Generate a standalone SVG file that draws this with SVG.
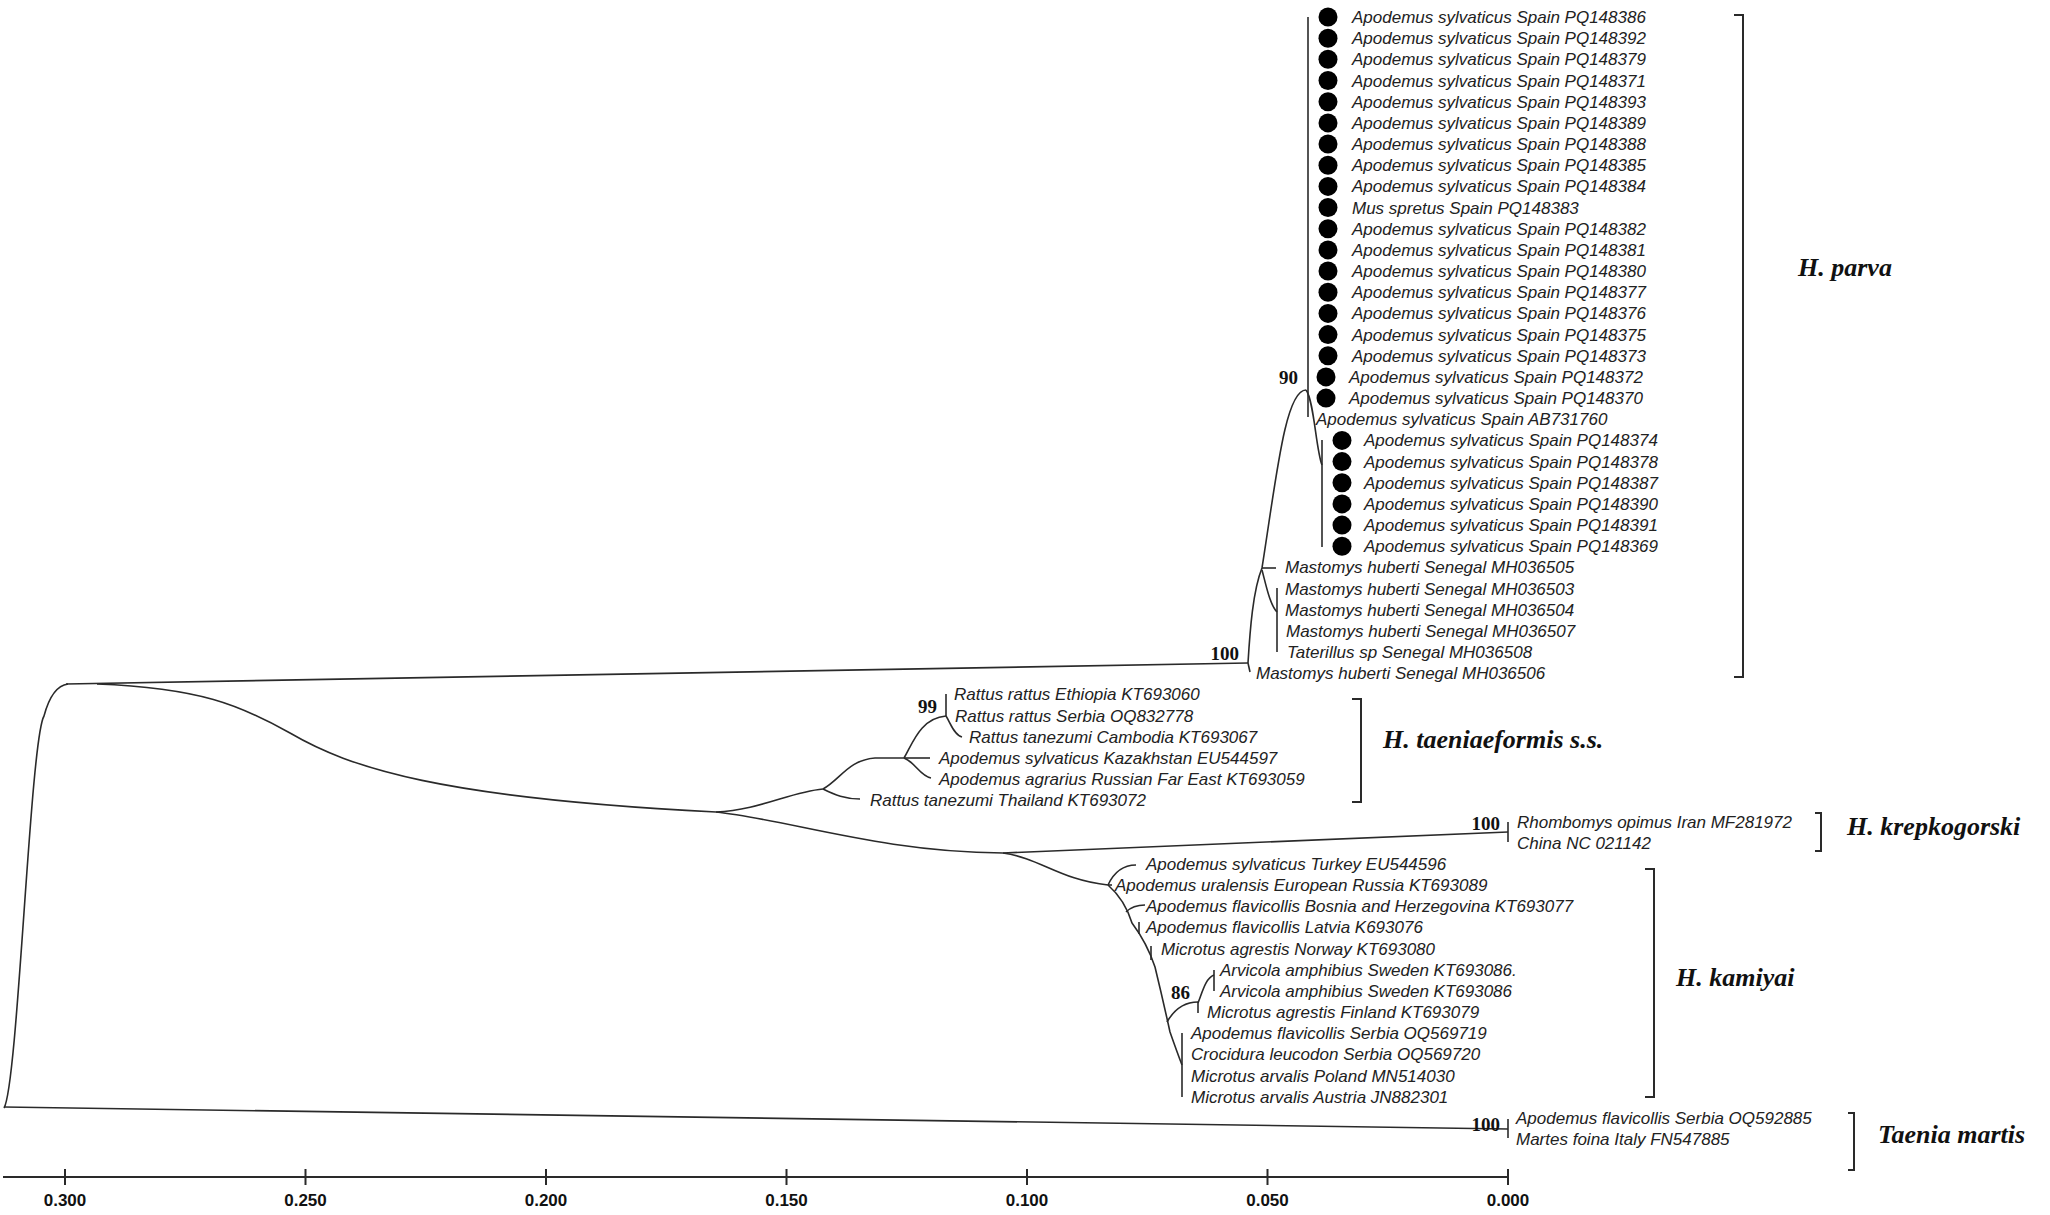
<svg xmlns="http://www.w3.org/2000/svg" width="2050" height="1215" viewBox="0 0 2050 1215">
<style>
.bg{fill:#fff}
.br{fill:none;stroke:#2a2a2a;stroke-width:1.6;stroke-linecap:butt}
.ax{fill:none;stroke:#2a2a2a;stroke-width:2}
.lf{font-family:"Liberation Sans",Arial,sans-serif;font-style:italic;font-size:17px;fill:#222}
.bs{font-family:"Liberation Serif","Times New Roman",serif;font-weight:bold;font-size:19px;fill:#111;text-anchor:end}
.cl{font-family:"Liberation Serif","Times New Roman",serif;font-weight:bold;font-style:italic;font-size:26px;fill:#111}
.tk{font-family:"Liberation Sans",Arial,sans-serif;font-weight:bold;font-size:17px;fill:#111;text-anchor:middle}
.dot{fill:#000}
.bk{fill:none;stroke:#2a2a2a;stroke-width:2}
</style>
<defs><circle id="d" r="9.5" class="dot"/></defs>
<rect class="bg" x="0" y="0" width="2050" height="1215"/>

<g id="connectors">
  <!-- root -->
  <path class="br" d="M4,1108 C18,1085 30,740 44,716 Q52,686 68,684"/>
  <path class="br" d="M4,1107 L1508,1129"/>
  <path class="br" d="M1508,1119 L1508,1138"/>
  <!-- upper: to H. parva -->
  <path class="br" d="M66,684 L1248,663"/>
  <path class="br" d="M1248,663 L1250,672"/>
  <path class="br" d="M1248,663 C1250,630 1253,590 1262,568"/>
  <path class="br" d="M1262,568 L1276,568"/>
  <path class="br" d="M1262,570 C1266,585 1270,605 1277,612"/>
  <path class="br" d="M1277,588 L1277,652"/>
  <path class="br" d="M1262,568 C1276,480 1285,390 1306,390"/>
  <path class="br" d="M1308,17 L1308,417"/>
  <path class="br" d="M1306,390 C1314,400 1316,450 1322,465"/>
  <path class="br" d="M1322,440 L1322,547"/>
  <!-- lower -->
  <path class="br" d="M97,684 C200,688 240,705 290,733 C350,768 440,798 716,812"/>
  <path class="br" d="M716,812 C760,810 790,792 823,789"/>
  <path class="br" d="M823,789 C835,795 845,799 860,799"/>
  <path class="br" d="M823,789 C840,780 848,760 875,758 L904,758"/>
  <path class="br" d="M904,758 L930,758"/>
  <path class="br" d="M904,758 C915,762 920,776 931,778"/>
  <path class="br" d="M904,758 C912,745 920,718 946,716"/>
  <path class="br" d="M946,694 L946,716"/>
  <path class="br" d="M946,716 C950,722 954,735 962,737"/>
  <path class="br" d="M716,812 C790,820 880,852 1003,853"/>
  <path class="br" d="M1003,853 L1508,832"/>
  <path class="br" d="M1508,822 L1508,842"/>
  <path class="br" d="M1003,853 C1040,858 1060,880 1108,885"/>
  <path class="br" d="M1108,885 L1112,885"/>
  <path class="br" d="M1108,885 C1115,870 1125,865 1136,865"/>
  <path class="br" d="M1108,885 Q1125,900 1132,923 Q1147,943 1155,967 Q1163,1000 1170,1032 Q1177,1052 1182,1065"/>
  <path class="br" d="M1126,912 C1132,906 1138,905 1145,905"/>
  <path class="br" d="M1139,922 L1139,934"/>
  <path class="br" d="M1151,946 L1151,960"/>
  <path class="br" d="M1167,1022 C1175,1008 1185,1002 1198,1002"/>
  <path class="br" d="M1198,1002 L1198,1013"/>
  <path class="br" d="M1198,1003 C1203,990 1206,978 1214,975"/>
  <path class="br" d="M1214,970 L1214,991"/>
  <path class="br" d="M1182,1033 L1182,1097"/>
</g>

<g id="bootstrap">
  <text class="bs" x="1298" y="384">90</text>
  <text class="bs" x="1239" y="660">100</text>
  <text class="bs" x="937" y="713">99</text>
  <text class="bs" x="1500" y="830">100</text>
  <text class="bs" x="1190" y="999">86</text>
  <text class="bs" x="1500" y="1131">100</text>
</g>

<g id="leaves-parva">
  <g id="n1"><use href="#d" x="1328" y="17"/><text class="lf" x="1352" y="23">Apodemus sylvaticus Spain PQ148386</text></g>
  <g id="n2"><use href="#d" x="1328" y="38.2"/><text class="lf" x="1352" y="44.2">Apodemus sylvaticus Spain PQ148392</text></g>
  <g id="n3"><use href="#d" x="1328" y="59.3"/><text class="lf" x="1352" y="65.3">Apodemus sylvaticus Spain PQ148379</text></g>
  <g id="n4"><use href="#d" x="1328" y="80.5"/><text class="lf" x="1352" y="86.5">Apodemus sylvaticus Spain PQ148371</text></g>
  <g id="n5"><use href="#d" x="1328" y="101.7"/><text class="lf" x="1352" y="107.7">Apodemus sylvaticus Spain PQ148393</text></g>
  <g id="n6"><use href="#d" x="1328" y="122.9"/><text class="lf" x="1352" y="128.9">Apodemus sylvaticus Spain PQ148389</text></g>
  <g id="n7"><use href="#d" x="1328" y="144"/><text class="lf" x="1352" y="150">Apodemus sylvaticus Spain PQ148388</text></g>
  <g id="n8"><use href="#d" x="1328" y="165.2"/><text class="lf" x="1352" y="171.2">Apodemus sylvaticus Spain PQ148385</text></g>
  <g id="n9"><use href="#d" x="1328" y="186.4"/><text class="lf" x="1352" y="192.4">Apodemus sylvaticus Spain PQ148384</text></g>
  <g id="n10"><use href="#d" x="1328" y="207.5"/><text class="lf" x="1352" y="213.5">Mus spretus Spain PQ148383</text></g>
  <g id="n11"><use href="#d" x="1328" y="228.7"/><text class="lf" x="1352" y="234.7">Apodemus sylvaticus Spain PQ148382</text></g>
  <g id="n12"><use href="#d" x="1328" y="249.9"/><text class="lf" x="1352" y="255.9">Apodemus sylvaticus Spain PQ148381</text></g>
  <g id="n13"><use href="#d" x="1328" y="271"/><text class="lf" x="1352" y="277">Apodemus sylvaticus Spain PQ148380</text></g>
  <g id="n14"><use href="#d" x="1328" y="292.2"/><text class="lf" x="1352" y="298.2">Apodemus sylvaticus Spain PQ148377</text></g>
  <g id="n15"><use href="#d" x="1328" y="313.4"/><text class="lf" x="1352" y="319.4">Apodemus sylvaticus Spain PQ148376</text></g>
  <g id="n16"><use href="#d" x="1328" y="334.6"/><text class="lf" x="1352" y="340.6">Apodemus sylvaticus Spain PQ148375</text></g>
  <g id="n17"><use href="#d" x="1328" y="355.7"/><text class="lf" x="1352" y="361.7">Apodemus sylvaticus Spain PQ148373</text></g>
  <g id="n18"><use href="#d" x="1326" y="376.9"/><text class="lf" x="1349" y="382.9">Apodemus sylvaticus Spain PQ148372</text></g>
  <g id="n19"><use href="#d" x="1326" y="398.1"/><text class="lf" x="1349" y="404.1">Apodemus sylvaticus Spain PQ148370</text></g>
  <g id="n20"><text class="lf" x="1316" y="425.2">Apodemus sylvaticus Spain AB731760</text></g>
  <g id="n21"><use href="#d" x="1342" y="440.4"/><text class="lf" x="1364" y="446.4">Apodemus sylvaticus Spain PQ148374</text></g>
  <g id="n22"><use href="#d" x="1342" y="461.6"/><text class="lf" x="1364" y="467.6">Apodemus sylvaticus Spain PQ148378</text></g>
  <g id="n23"><use href="#d" x="1342" y="482.7"/><text class="lf" x="1364" y="488.7">Apodemus sylvaticus Spain PQ148387</text></g>
  <g id="n24"><use href="#d" x="1342" y="503.9"/><text class="lf" x="1364" y="509.9">Apodemus sylvaticus Spain PQ148390</text></g>
  <g id="n25"><use href="#d" x="1342" y="525.1"/><text class="lf" x="1364" y="531.1">Apodemus sylvaticus Spain PQ148391</text></g>
  <g id="n26"><use href="#d" x="1342" y="546.3"/><text class="lf" x="1364" y="552.3">Apodemus sylvaticus Spain PQ148369</text></g>
  <g id="n27"><text class="lf" x="1285" y="573.4">Mastomys huberti Senegal MH036505</text></g>
  <g id="n28"><text class="lf" x="1285" y="594.6">Mastomys huberti Senegal MH036503</text></g>
  <g id="n29"><text class="lf" x="1285" y="615.8">Mastomys huberti Senegal MH036504</text></g>
  <g id="n30"><text class="lf" x="1286" y="636.9">Mastomys huberti Senegal MH036507</text></g>
  <g id="n31"><text class="lf" x="1287" y="658.1">Taterillus sp Senegal MH036508</text></g>
  <g id="n32"><text class="lf" x="1256" y="679.3">Mastomys huberti Senegal MH036506</text></g>
</g>

<g id="leaves-taeniaeformis">
  <g id="n33"><text class="lf" x="954" y="700.4">Rattus rattus Ethiopia KT693060</text></g>
  <g id="n34"><text class="lf" x="955" y="721.6">Rattus rattus Serbia OQ832778</text></g>
  <g id="n35"><text class="lf" x="969" y="742.8">Rattus tanezumi Cambodia KT693067</text></g>
  <g id="n36"><text class="lf" x="939" y="764">Apodemus sylvaticus Kazakhstan EU544597</text></g>
  <g id="n37"><text class="lf" x="939" y="785.1">Apodemus agrarius Russian Far East KT693059</text></g>
  <g id="n38"><text class="lf" x="870" y="806.3">Rattus tanezumi Thailand KT693072</text></g>
</g>

<g id="leaves-krepkogorski">
  <g id="n39"><text class="lf" x="1517" y="827.5">Rhombomys opimus Iran MF281972</text></g>
  <g id="n40"><text class="lf" x="1517" y="848.6">China NC 021142</text></g>
</g>

<g id="leaves-kamiyai">
  <g id="n41"><text class="lf" x="1146" y="869.8">Apodemus sylvaticus Turkey EU544596</text></g>
  <g id="n42"><text class="lf" x="1115" y="891">Apodemus uralensis European Russia KT693089</text></g>
  <g id="n43"><text class="lf" x="1146" y="912.1">Apodemus flavicollis Bosnia and Herzegovina KT693077</text></g>
  <g id="n44"><text class="lf" x="1146" y="933.3">Apodemus flavicollis Latvia K693076</text></g>
  <g id="n45"><text class="lf" x="1161" y="954.5">Microtus agrestis Norway KT693080</text></g>
  <g id="n46"><text class="lf" x="1220" y="975.6">Arvicola amphibius Sweden KT693086.</text></g>
  <g id="n47"><text class="lf" x="1220" y="996.8">Arvicola amphibius Sweden KT693086</text></g>
  <g id="n48"><text class="lf" x="1207" y="1018">Microtus agrestis Finland KT693079</text></g>
  <g id="n49"><text class="lf" x="1191" y="1039.2">Apodemus flavicollis Serbia OQ569719</text></g>
  <g id="n50"><text class="lf" x="1191" y="1060.3">Crocidura leucodon Serbia OQ569720</text></g>
  <g id="n51"><text class="lf" x="1191" y="1081.5">Microtus arvalis Poland MN514030</text></g>
  <g id="n52"><text class="lf" x="1191" y="1102.7">Microtus arvalis Austria JN882301</text></g>
</g>

<g id="leaves-taenia">
  <g id="n53"><text class="lf" x="1516" y="1123.8">Apodemus flavicollis Serbia OQ592885</text></g>
  <g id="n54"><text class="lf" x="1516" y="1145">Martes foina Italy FN547885</text></g>
</g>

<g id="clade-parva">
  <path class="bk" d="M1734,15 L1743,15 L1743,677 L1734,677"/>
  <text class="cl" x="1798" y="276">H. parva</text>
</g>
<g id="clade-taeniaeformis">
  <path class="bk" d="M1352,699 L1361,699 L1361,802 L1352,802"/>
  <text class="cl" x="1383" y="748">H. taeniaeformis s.s.</text>
</g>
<g id="clade-krepkogorski">
  <path class="bk" d="M1815,813 L1821,813 L1821,851 L1815,851"/>
  <text class="cl" x="1847" y="835">H. krepkogorski</text>
</g>
<g id="clade-kamiyai">
  <path class="bk" d="M1645,869 L1654,869 L1654,1097 L1645,1097"/>
  <text class="cl" x="1676" y="986">H. kamiyai</text>
</g>
<g id="clade-taenia">
  <path class="bk" d="M1848,1113 L1854,1113 L1854,1170 L1848,1170"/>
  <text class="cl" x="1878" y="1143">Taenia martis</text>
</g>

<g id="axis">
  <path class="ax" d="M3,1177 L1508,1177"/>
  <path class="ax" d="M65,1169 V1185 M305.5,1169 V1185 M546,1169 V1185 M786.5,1169 V1185 M1027,1169 V1185 M1267.5,1169 V1185 M1508,1169 V1185"/>
  <text class="tk" x="65" y="1206">0.300</text>
  <text class="tk" x="305.5" y="1206">0.250</text>
  <text class="tk" x="546" y="1206">0.200</text>
  <text class="tk" x="786.5" y="1206">0.150</text>
  <text class="tk" x="1027" y="1206">0.100</text>
  <text class="tk" x="1267.5" y="1206">0.050</text>
  <text class="tk" x="1508" y="1206">0.000</text>
</g>
</svg>
